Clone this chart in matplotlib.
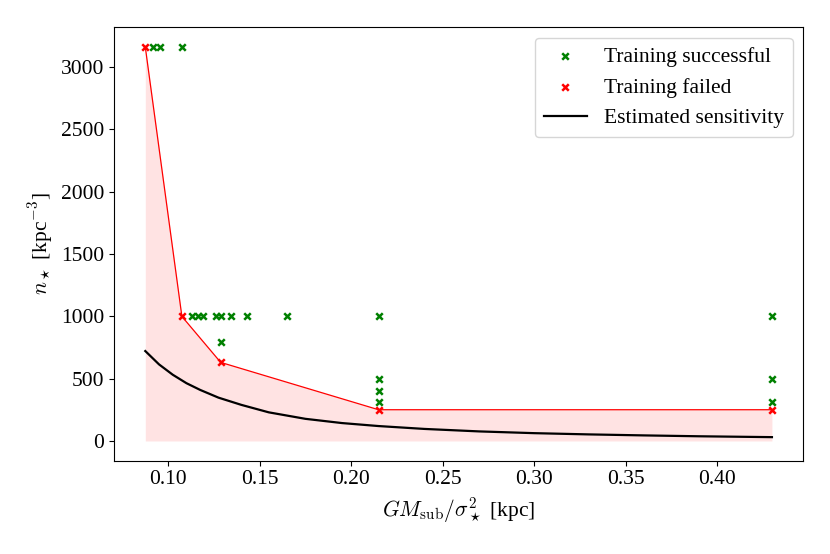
import matplotlib
matplotlib.use('Agg')
import matplotlib.pyplot as plt

# training runs that worked
ok_x = [0.0915, 0.0955, 0.1075,
        0.1128, 0.1164, 0.1188, 0.1261, 0.1287, 0.1342, 0.1429, 0.1652, 0.215, 0.43,
        0.1287,
        0.215, 0.215, 0.215,
        0.43, 0.43]
ok_y = [3162, 3162, 3162,
        1000, 1000, 1000, 1000, 1000, 1000, 1000, 1000, 1000, 1000,
        794,
        501, 398, 316,
        501, 316]

# training runs that failed (lowest density per scale)
fail_x = [0.0875, 0.1075, 0.1287, 0.215, 0.43]
fail_y = [3162, 1000, 631, 251, 251]

# estimated sensitivity curve
sens_x = [0.0875, 0.095, 0.1025, 0.11, 0.1175, 0.1275, 0.14, 0.155, 0.175,
          0.195, 0.215, 0.24, 0.27, 0.30, 0.33, 0.36, 0.39, 0.43]
sens_y = [722, 615, 532, 464, 410, 348, 290, 230, 178,
          144, 120, 97, 77, 63, 53, 45, 38, 31]

plt.rcParams['font.family'] = ['Liberation Serif', 'DejaVu Serif']
plt.rcParams['mathtext.fontset'] = 'cm'
plt.rcParams['font.size'] = 15.5

fig = plt.figure(figsize=(8.3, 5.54), dpi=100)
ax = fig.add_axes([0.1373, 0.1684, 0.8305, 0.7823])

ax.fill_between(fail_x, 0, fail_y, color='red', alpha=0.11, linewidth=0)
ax.plot(fail_x, fail_y, color='red', linewidth=0.9)
ax.scatter(ok_x, ok_y, marker='x', color='green', s=22, linewidths=1.8,
           label='Training successful', zorder=3)
ax.scatter(fail_x, fail_y, marker='x', color='red', s=22, linewidths=1.8,
           label='Training failed', zorder=3)
ax.plot(sens_x, sens_y, color='black', linewidth=1.6, label='Estimated sensitivity')

ax.set_xlabel(r'$GM_{\rm sub}/\sigma_\star^2$ [kpc]')
ax.set_ylabel(r'$n_\star$ [kpc$^{-3}$]')
ax.legend(loc='upper right')

fig.savefig('out.png', dpi=100)
